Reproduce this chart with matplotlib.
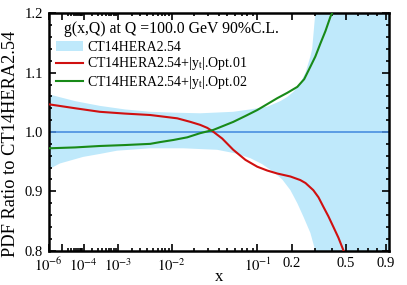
import numpy as np
import matplotlib
matplotlib.use("Agg")
import matplotlib.pyplot as plt
from matplotlib.patches import Patch
from matplotlib.lines import Line2D

plt.rcParams['font.family'] = ['Liberation Serif', 'DejaVu Serif']
plt.rcParams['mathtext.fontset'] = 'stix'

# ---- data ----
band_up_x = [1e-6, 4.5e-5, 3.4e-4, 1.46e-3, 4.5e-3, 0.0112, 0.0242, 0.0575, 0.0852, 0.123, 0.16,
             0.183, 0.206, 0.233, 0.256, 0.279, 0.288, 0.304, 0.33, 0.95]
band_up_y = [1.0635, 1.052, 1.044, 1.038, 1.034, 1.0325, 1.0315, 1.034, 1.038, 1.0426, 1.052,
             1.059, 1.068, 1.082, 1.10, 1.127, 1.14, 1.2, 1.5, 1.5]
band_lo_x = [1e-6, 7.4e-6, 9.5e-5, 3.4e-4, 9.6e-4, 4.5e-3, 0.0145, 0.0385, 0.0604, 0.0852, 0.110,
             0.139, 0.166, 0.194, 0.2207, 0.247, 0.279, 0.304, 0.33, 0.95]
band_lo_y = [0.937, 0.947, 0.958, 0.963, 0.9685, 0.9725, 0.9725, 0.970, 0.964, 0.956, 0.946,
             0.933, 0.92, 0.902, 0.88, 0.857, 0.83, 0.80, 0.5, 0.5]

opt01_x = [1e-6, 4.5e-5, 3.4e-4, 1.46e-3, 4.5e-3, 0.012, 0.0182, 0.0242, 0.0295, 0.0347, 0.0438,
           0.0576, 0.0766, 0.0995, 0.123, 0.1506, 0.194, 0.233, 0.256, 0.2936, 0.321, 0.3487,
           0.379, 0.4115, 0.446, 0.484]
opt01_y = [1.0467, 1.040, 1.034, 1.031, 1.0286, 1.023, 1.017, 1.012, 1.007, 1.0005, 0.989,
           0.970, 0.953, 0.9415, 0.935, 0.930, 0.925, 0.919, 0.914, 0.902, 0.89, 0.874,
           0.858, 0.840, 0.822, 0.80]

opt02_x = [1e-6, 4.5e-5, 3.4e-4, 1.46e-3, 4.5e-3, 6.6e-3, 0.0105, 0.0165, 0.0242, 0.0347, 0.0576,
           0.0766, 0.0995, 0.123, 0.1506, 0.183, 0.2207, 0.25, 0.279, 0.304, 0.3316, 0.361,
           0.3918, 0.4115]
opt02_y = [0.9725, 0.974, 0.9764, 0.978, 0.980, 0.983, 0.9865, 0.991, 0.998, 1.0034, 1.017,
           1.027, 1.037, 1.047, 1.057, 1.066, 1.076, 1.089, 1.110, 1.127, 1.149, 1.17,
           1.194, 1.205]

xtick_vals = [1e-6, 1e-5, 1e-4, 1e-3, 1e-2, 0.1, 0.2, 0.5, 0.9]
xtick_labels = [r'$10^{-6}$', '', r'$10^{-4}$', r'$10^{-3}$', r'$10^{-2}$', r'$10^{-1}$', '0.2', '0.5', '0.9']
xminor_vals = ([m * 1e-5 for m in range(2, 10)] + [m * 1e-4 for m in range(2, 10)] +
               [m * 1e-3 for m in range(2, 10)] + [m * 1e-2 for m in range(2, 10)] +
               [0.3, 0.4, 0.6, 0.7, 0.8])
ytick_vals = [0.8, 0.9, 1.0, 1.1, 1.2]
ytick_labels = ['0.8', '0.9', '1.0', '1.1', '1.2']

title_text = 'g(x,Q) at Q =100.0 GeV 90%C.L.'
labels = ['CT14HERA2.54', r'CT14HERA2.54+|y$_{\mathrm{t}}$|.Opt.01', r'CT14HERA2.54+|y$_{\mathrm{t}}$|.Opt.02']

band_color = '#bfe9fb'
c_ref = '#4a8fe0'
c_red = '#d01010'
c_green = '#188a18'

fig = plt.figure(figsize=(4.07, 2.85), dpi=100)
ax = fig.add_axes([0.1194, 0.1204, 0.8376, 0.8330])

fwd = lambda x: np.power(np.clip(x, 0, None), 0.2)
inv = lambda y: np.power(np.clip(y, 0, None), 5)
ax.set_xscale('function', functions=(fwd, inv))

bx = np.array(sorted(set(band_up_x) | set(band_lo_x)))
up = np.interp(fwd(bx), fwd(np.array(band_up_x)), band_up_y)
lo = np.interp(fwd(bx), fwd(np.array(band_lo_x)), band_lo_y)
ax.fill_between(bx, lo, up, color=band_color, lw=0, zorder=1)

ax.axhline(1.0, color=c_ref, lw=1.2, zorder=2)
ax.plot(opt01_x, opt01_y, color=c_red, lw=1.5, zorder=3)
ax.plot(opt02_x, opt02_y, color=c_green, lw=1.5, zorder=3)

ax.set_xlim(1e-6, 0.95)
ax.set_ylim(0.8, 1.2)

ax.set_xticks(xtick_vals)
ax.set_xticklabels(xtick_labels)
ax.set_xticks(xminor_vals, minor=True)
ax.set_yticks(ytick_vals)
ax.set_yticklabels(ytick_labels)
ax.set_yticks(np.arange(0.8, 1.2001, 0.02), minor=True)

ax.tick_params(which='both', direction='in', top=True, right=True, labelsize=10.5, width=1.2)
ax.tick_params(which='major', length=5)
ax.tick_params(which='minor', length=2.5)
ax.tick_params(axis='x', pad=4.5)
ax.tick_params(axis='y', pad=4)
for s in ax.spines.values():
    s.set_linewidth(1.8)

ax.set_xlabel('x', fontsize=12, labelpad=-4)
ax.set_ylabel('PDF Ratio to CT14HERA2.54', fontsize=13.2)
ax.yaxis.set_label_coords(-0.088, 0.45)

ax.text(0.045, 0.935, title_text, transform=ax.transAxes, fontsize=11.3, va='center', ha='left')
handles = [Patch(facecolor=band_color, edgecolor='none'),
           Line2D([], [], color=c_red, lw=1.5),
           Line2D([], [], color=c_green, lw=1.5)]
ax.legend(handles, labels, loc='upper left', bbox_to_anchor=(0.015, 0.895), frameon=False,
          fontsize=10, handlelength=1.9, handletextpad=0.3, labelspacing=0.1, borderaxespad=0.0,
          borderpad=0.2)

fig.savefig('out.png', dpi=100)
